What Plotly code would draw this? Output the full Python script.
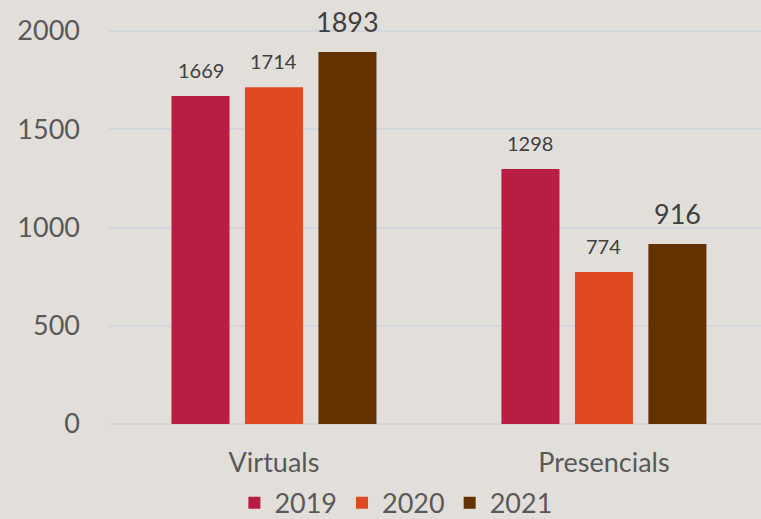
import plotly.graph_objects as go

categories = ['Virtuals', 'Presencials']
years = ['2019', '2020', '2021']
values_2019 = [1669, 1298]
values_2020 = [1714, 774]
values_2021 = [1893, 916]
label_sizes_2019 = [20, 20]
label_sizes_2020 = [20, 20]
label_sizes_2021 = [27, 27]

colors = {'2019': '#B81D43', '2020': '#E04A20', '2021': '#643200'}
series = {'2019': (values_2019, label_sizes_2019),
          '2020': (values_2020, label_sizes_2020),
          '2021': (values_2021, label_sizes_2021)}

font_family = 'Lato, Gill Sans, sans-serif'

W, H = 761, 519
margin = dict(l=109, r=0, t=10, b=95, autoexpand=False)
x_range = [-0.5, 1.476]
bargap = 0.332

fig = go.Figure()
for yr in years:
    vals, sizes = series[yr]
    fig.add_trace(go.Bar(
        x=categories, y=vals, name=yr,
        marker=dict(color=colors[yr], line=dict(width=0)),
    ))

# data labels: annotations sit above each bar, shifted sideways to its slot in the group
px_per_cat = (W - margin['l'] - margin['r']) / (x_range[1] - x_range[0])
slot = px_per_cat * (1 - bargap) / len(years)
for j, yr in enumerate(years):
    vals, sizes = series[yr]
    for cat, v, s in zip(categories, vals, sizes):
        fig.add_annotation(x=cat, y=v, text=str(v), showarrow=False,
                           xshift=(j - 1) * slot, yshift=12, yanchor='bottom',
                           font=dict(size=s, color='#404040', family=font_family))

fig.update_layout(
    width=W, height=H,
    barmode='group', bargap=bargap, bargroupgap=0.21,
    paper_bgcolor='#E2DFDA', plot_bgcolor='#E2DFDA',
    margin=margin,
    font=dict(family=font_family, color='#595959'),
    showlegend=True,
    legend=dict(orientation='h', x=0.44, xanchor='center',
                y=-0.132, yanchor='top',
                font=dict(size=27, color='#595959'), bgcolor='rgba(0,0,0,0)',
                itemwidth=30, tracegroupgap=0),
)
fig.update_xaxes(range=x_range, showgrid=False, showline=False, zeroline=False,
                 tickfont=dict(size=27, color='#595959'), ticks='', ticklabelstandoff=20)
fig.update_yaxes(range=[0, 2107], tickvals=[0, 500, 1000, 1500, 2000],
                 showgrid=True, gridcolor='#D3D6DA', gridwidth=1.5,
                 zeroline=True, zerolinecolor='#D3D6DA', zerolinewidth=1.5,
                 tickfont=dict(size=27, color='#595959'), ticks='', ticklabelstandoff=28)

fig.write_html('out.html', config={'displayModeBar': False},
               post_script="document.body.style.margin='0';")
